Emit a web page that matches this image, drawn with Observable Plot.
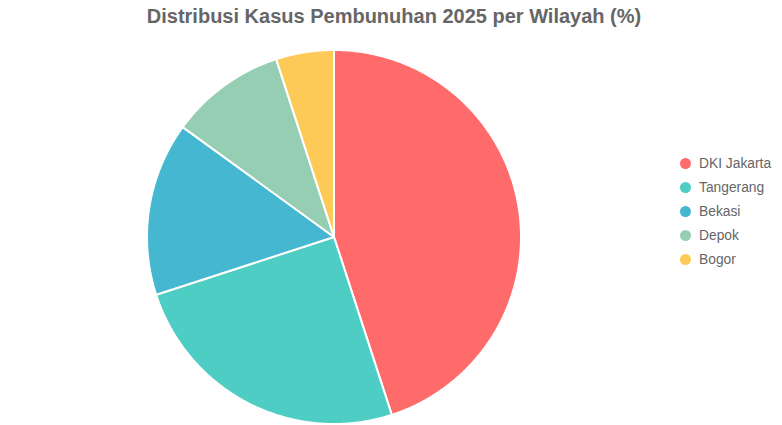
<!DOCTYPE html>
<html>
<head>
<meta charset="utf-8">
<script src="https://cdn.jsdelivr.net/npm/d3@7"></script>
<script src="https://cdn.jsdelivr.net/npm/@observablehq/plot@0.6"></script>
<style>
  html, body { margin: 0; padding: 0; background: #fff; }
  #wrap { position: relative; width: 782px; height: 425px; font-family: "Liberation Sans", Arial, Helvetica, sans-serif; }
  #title { position: absolute; left: 0; top: 3px; width: 788px; text-align: center; font-size: 20px; font-weight: bold; color: #666; line-height: 26px; }
  #chart { position: absolute; left: 0; top: 40px; }
  #legend { position: absolute; left: 680px; top: 151px; font-size: 13.8px; color: #666; }
  .item { display: flex; align-items: center; height: 24px; }
  .dot { width: 11px; height: 11px; border-radius: 50%; margin-right: 8px; }
</style>
</head>
<body>
<div id="wrap">
  <div id="title">Distribusi Kasus Pembunuhan 2025 per Wilayah (%)</div>
  <div id="chart"></div>
  <div id="legend"></div>
</div>
<script>
const regions = ["DKI Jakarta", "Tangerang", "Bekasi", "Depok", "Bogor"];
const shares = [45, 25, 15, 10, 5];
const colors = ["#FF6B6B", "#4ECDC4", "#45B7D1", "#96CEB4", "#FECA57"];

// Build sector outlines (geometry only) from the data values
const total = d3.sum(shares);
const pts = [];
let acc = 0;
regions.forEach((name, i) => {
  const a0 = acc / total * 2 * Math.PI;
  acc += shares[i];
  const a1 = acc / total * 2 * Math.PI;
  const n = Math.max(2, Math.ceil((a1 - a0) / (Math.PI / 360)));
  for (let k = 0; k <= n; k++) {
    const a = a0 + (a1 - a0) * k / n;
    pts.push({name, x: Math.sin(a), y: Math.cos(a)});
  }
});

const plot = Plot.plot({
  width: 782,
  height: 385,
  marginLeft: 147,
  marginRight: 261,
  marginTop: 10,
  marginBottom: 1,
  x: {domain: [-1, 1], axis: null},
  y: {domain: [-1, 1], axis: null},
  color: {domain: regions, range: colors},
  marks: [
    Plot.area(pts, {x1: "x", y1: "y", x2: 0, y2: 0, z: "name", fill: "name", stroke: "white", strokeWidth: 2, strokeLinejoin: "round", curve: "linear"})
  ]
});
document.getElementById("chart").appendChild(plot);

const legend = document.getElementById("legend");
regions.forEach((r, i) => {
  const it = document.createElement("div");
  it.className = "item";
  const d = document.createElement("span");
  d.className = "dot";
  d.style.background = colors[i];
  const t = document.createElement("span");
  t.textContent = r;
  it.appendChild(d); it.appendChild(t);
  legend.appendChild(it);
});
</script>
</body>
</html>
